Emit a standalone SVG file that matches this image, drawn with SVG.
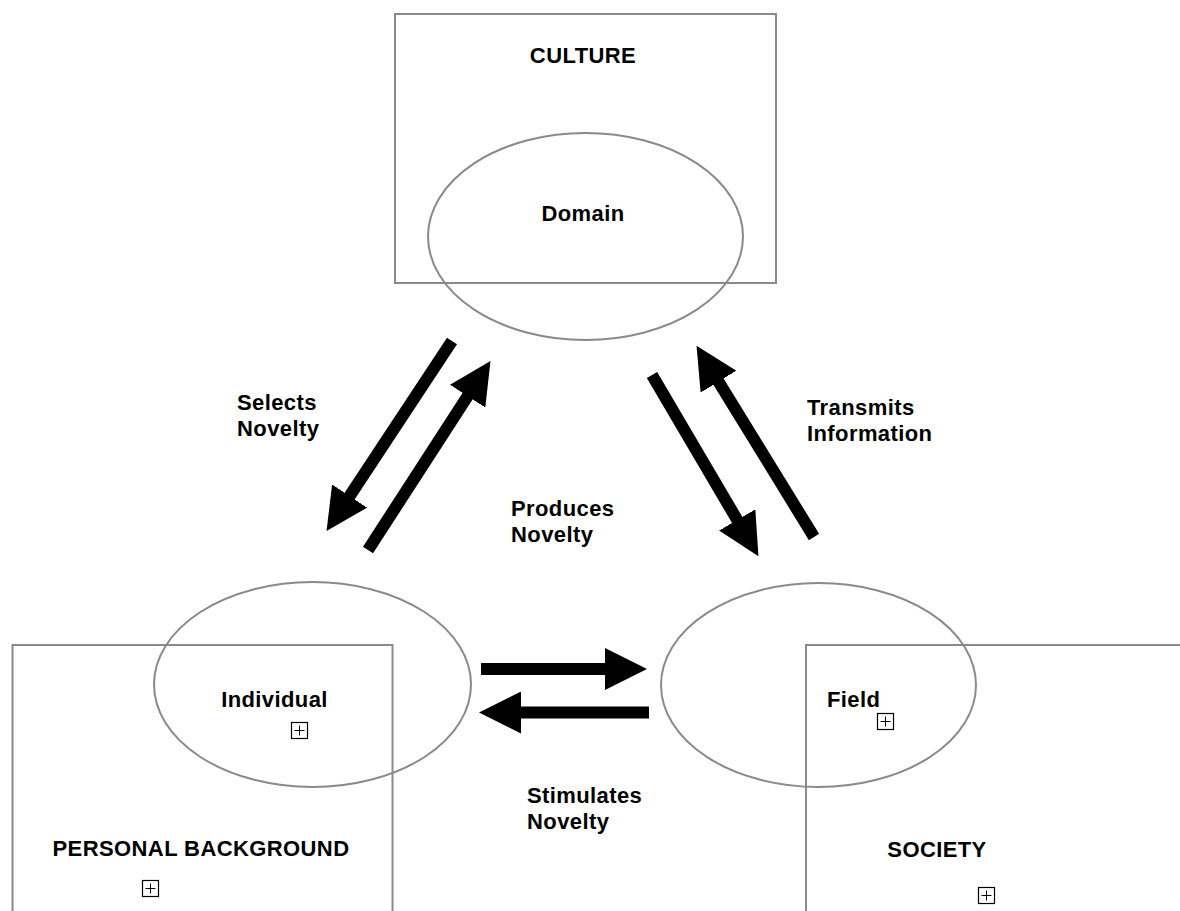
<svg xmlns="http://www.w3.org/2000/svg" width="1180" height="911" viewBox="0 0 1180 911">
<style>
.frame{fill:none;stroke:#8a8a8a;stroke-width:2}
.oval{fill:none;stroke:#8a8a8a;stroke-width:2}
.t{font-family:"Liberation Sans",Arial,Helvetica,sans-serif;font-weight:bold;font-size:22px;letter-spacing:0.4px;fill:#000}
.c{text-anchor:middle}
.arr{stroke:#000;stroke-width:12;fill:none;marker-end:url(#head)}
.pb{fill:#fff;stroke:#000;stroke-width:1.2}
</style>
<defs>
<marker id="head" viewBox="0 0 42 42" refX="1" refY="21" markerWidth="42" markerHeight="42" markerUnits="userSpaceOnUse" orient="auto">
<path d="M0,0 L42,21 L0,42 Z" fill="#000"/>
</marker>
<g id="plusbox">
<rect class="pb" x="0.5" y="0.5" width="16" height="16"/>
<path d="M3.5,8.5 H13.5 M8.5,3.5 V13.5" stroke="#000" stroke-width="1" fill="none"/>
</g>
</defs>
<rect width="1180" height="911" fill="#fff"/>

<g id="culture">
<rect class="frame" x="395" y="14" width="381" height="269"/>
<text class="t c" x="583" y="63">CULTURE</text>
</g>
<g id="domain">
<ellipse class="oval" cx="585.5" cy="236.5" rx="157.5" ry="103.5"/>
<text class="t c" x="583" y="221">Domain</text>
</g>

<g id="personal-background">
<rect class="frame" x="12.5" y="645" width="380" height="300"/>
<text class="t c" x="201" y="856">PERSONAL BACKGROUND</text>
<use href="#plusbox" x="142" y="880"/>
</g>
<g id="individual">
<ellipse class="oval" cx="312.5" cy="684.5" rx="158.5" ry="102.5"/>
<text class="t c" x="274.5" y="707">Individual</text>
<use href="#plusbox" x="291" y="722"/>
</g>

<g id="society">
<rect class="frame" x="806" y="645" width="400" height="300"/>
<text class="t c" x="937" y="857">SOCIETY</text>
<use href="#plusbox" x="978" y="887"/>
</g>
<g id="field">
<ellipse class="oval" cx="818.5" cy="685" rx="157.5" ry="102"/>
<text class="t" x="827" y="707">Field</text>
<use href="#plusbox" x="877" y="713"/>
</g>

<g id="connectors">
<line class="arr" x1="452" y1="341" x2="349.1" y2="496.9"/>
<line class="arr" x1="368" y1="550" x2="468.2" y2="395.3"/>
<line class="arr" x1="652" y1="375" x2="737.7" y2="520.8"/>
<line class="arr" x1="814" y1="537" x2="718" y2="380.8"/>
<line class="arr" x1="481" y1="669" x2="606" y2="669"/>
<line class="arr" x1="649" y1="712.5" x2="520" y2="712.5"/>
</g>

<g id="labels">
<text class="t" x="237" y="410">Selects<tspan x="237" y="436">Novelty</tspan></text>
<text class="t" x="511" y="516">Produces<tspan x="511" y="542">Novelty</tspan></text>
<text class="t" x="807" y="415">Transmits<tspan x="807" y="441">Information</tspan></text>
<text class="t" x="527" y="803">Stimulates<tspan x="527" y="829">Novelty</tspan></text>
</g>
</svg>
